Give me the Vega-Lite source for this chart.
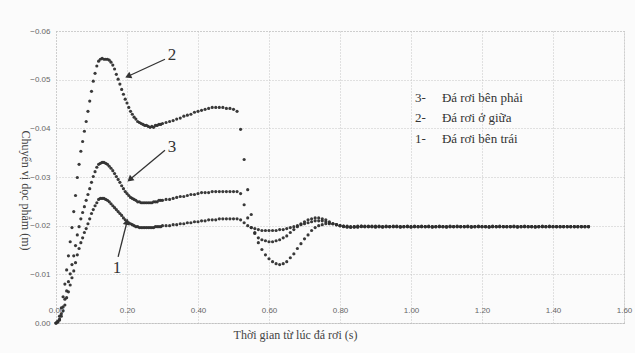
{
"$schema": "https://vega.github.io/schema/vega-lite/v6.json",
"width": 568, "height": 292,
"autosize": "none",
"padding": {"left": 56, "top": 31, "right": 11, "bottom": 30},
"background": "#fbfbfb",
"config": {"view": {"stroke": "#b5b5b5", "strokeDash": [1, 2]}},
"datasets": {
"curves": [
{"s":1,"t":0,"v":0},{"s":1,"t":0.005,"v":-0.0002},{"s":1,"t":0.01,"v":-0.0006},{"s":1,"t":0.015,"v":-0.0014},{"s":1,"t":0.02,"v":-0.0025},{"s":1,"t":0.025,"v":-0.0037},{"s":1,"t":0.03,"v":-0.0052},{"s":1,"t":0.035,"v":-0.0064},{"s":1,"t":0.04,"v":-0.0078},{"s":1,"t":0.045,"v":-0.0093},{"s":1,"t":0.05,"v":-0.0107},{"s":1,"t":0.055,"v":-0.0124},{"s":1,"t":0.06,"v":-0.014},{"s":1,"t":0.065,"v":-0.0153},{"s":1,"t":0.07,"v":-0.0165},{"s":1,"t":0.075,"v":-0.0175},{"s":1,"t":0.08,"v":-0.0186},{"s":1,"t":0.085,"v":-0.0194},{"s":1,"t":0.09,"v":-0.0204},{"s":1,"t":0.095,"v":-0.0214},{"s":1,"t":0.1,"v":-0.0225},{"s":1,"t":0.105,"v":-0.0233},{"s":1,"t":0.11,"v":-0.0241},{"s":1,"t":0.115,"v":-0.0247},{"s":1,"t":0.12,"v":-0.0254},{"s":1,"t":0.125,"v":-0.0256},{"s":1,"t":0.13,"v":-0.0256},
{"s":1,"t":0.135,"v":-0.0256},{"s":1,"t":0.14,"v":-0.0254},{"s":1,"t":0.145,"v":-0.0252},{"s":1,"t":0.15,"v":-0.0249},{"s":1,"t":0.155,"v":-0.0245},{"s":1,"t":0.16,"v":-0.0241},{"s":1,"t":0.165,"v":-0.0237},{"s":1,"t":0.17,"v":-0.0233},{"s":1,"t":0.175,"v":-0.0229},{"s":1,"t":0.18,"v":-0.0225},{"s":1,"t":0.185,"v":-0.0221},{"s":1,"t":0.19,"v":-0.0216},{"s":1,"t":0.195,"v":-0.0212},{"s":1,"t":0.2,"v":-0.0208},{"s":1,"t":0.205,"v":-0.0206},{"s":1,"t":0.21,"v":-0.0204},{"s":1,"t":0.215,"v":-0.0202},{"s":1,"t":0.22,"v":-0.02},{"s":1,"t":0.225,"v":-0.0198},{"s":1,"t":0.23,"v":-0.0198},{"s":1,"t":0.235,"v":-0.0196},{"s":1,"t":0.24,"v":-0.0196},{"s":1,"t":0.245,"v":-0.0196},{"s":1,"t":0.25,"v":-0.0196},{"s":1,"t":0.255,"v":-0.0196},{"s":1,"t":0.26,"v":-0.0196},{"s":1,"t":0.265,"v":-0.0196},{"s":1,"t":0.27,"v":-0.0196},{"s":1,"t":0.275,"v":-0.0196},{"s":1,"t":0.28,"v":-0.0198},{"s":1,"t":0.285,"v":-0.0198},{"s":1,"t":0.29,"v":-0.0198},{"s":1,"t":0.295,"v":-0.0198},{"s":1,"t":0.3,"v":-0.02},
{"s":1,"t":0.31,"v":-0.02},{"s":1,"t":0.32,"v":-0.02},{"s":1,"t":0.33,"v":-0.0202},{"s":1,"t":0.34,"v":-0.0202},{"s":1,"t":0.35,"v":-0.0204},{"s":1,"t":0.36,"v":-0.0204},{"s":1,"t":0.37,"v":-0.0206},{"s":1,"t":0.38,"v":-0.0206},{"s":1,"t":0.39,"v":-0.0208},{"s":1,"t":0.4,"v":-0.0208},{"s":1,"t":0.41,"v":-0.021},{"s":1,"t":0.42,"v":-0.021},{"s":1,"t":0.43,"v":-0.0212},{"s":1,"t":0.44,"v":-0.0212},{"s":1,"t":0.45,"v":-0.0212},{"s":1,"t":0.46,"v":-0.0214},{"s":1,"t":0.47,"v":-0.0214},{"s":1,"t":0.48,"v":-0.0214},{"s":1,"t":0.49,"v":-0.0214},{"s":1,"t":0.5,"v":-0.0214},{"s":1,"t":0.51,"v":-0.0214},{"s":1,"t":0.52,"v":-0.0212},{"s":1,"t":0.53,"v":-0.0206},{"s":1,"t":0.54,"v":-0.02},{"s":1,"t":0.55,"v":-0.0196},{"s":1,"t":0.56,"v":-0.0194},{"s":1,"t":0.57,"v":-0.0192},{"s":1,"t":0.58,"v":-0.019},{"s":1,"t":0.59,"v":-0.019},{"s":1,"t":0.6,"v":-0.019},{"s":1,"t":0.61,"v":-0.019},{"s":1,"t":0.62,"v":-0.019},{"s":1,"t":0.63,"v":-0.0192},{"s":1,"t":0.64,"v":-0.0192},{"s":1,"t":0.65,"v":-0.0194},{"s":1,"t":0.66,"v":-0.0196},{"s":1,"t":0.67,"v":-0.0198},{"s":1,"t":0.68,"v":-0.02},{"s":1,"t":0.69,"v":-0.0202},{"s":1,"t":0.7,"v":-0.0204},{"s":1,"t":0.71,"v":-0.0206},{"s":1,"t":0.72,"v":-0.0208},{"s":1,"t":0.73,"v":-0.021},{"s":1,"t":0.74,"v":-0.021},{"s":1,"t":0.75,"v":-0.021},{"s":1,"t":0.76,"v":-0.0208},{"s":1,"t":0.77,"v":-0.0206},{"s":1,"t":0.78,"v":-0.0204},{"s":1,"t":0.79,"v":-0.0202},{"s":1,"t":0.8,"v":-0.02},
{"s":1,"t":0.81,"v":-0.0199},{"s":1,"t":0.82,"v":-0.0199},{"s":1,"t":0.83,"v":-0.0198},{"s":1,"t":0.84,"v":-0.0198},{"s":1,"t":0.85,"v":-0.0199},{"s":1,"t":0.86,"v":-0.0199},{"s":1,"t":0.87,"v":-0.0198},{"s":1,"t":0.88,"v":-0.0198},{"s":1,"t":0.89,"v":-0.0198},{"s":1,"t":0.9,"v":-0.0199},{"s":1,"t":0.91,"v":-0.0199},{"s":1,"t":0.92,"v":-0.0198},{"s":1,"t":0.93,"v":-0.0198},{"s":1,"t":0.94,"v":-0.0198},{"s":1,"t":0.95,"v":-0.0199},{"s":1,"t":0.96,"v":-0.0198},{"s":1,"t":0.97,"v":-0.0198},{"s":1,"t":0.98,"v":-0.0198},{"s":1,"t":0.99,"v":-0.0199},{"s":1,"t":1.0,"v":-0.0198},{"s":1,"t":1.01,"v":-0.0198},{"s":1,"t":1.02,"v":-0.0198},{"s":1,"t":1.03,"v":-0.0199},{"s":1,"t":1.04,"v":-0.0198},{"s":1,"t":1.05,"v":-0.0198},{"s":1,"t":1.06,"v":-0.0198},{"s":1,"t":1.07,"v":-0.0198},{"s":1,"t":1.08,"v":-0.0199},{"s":1,"t":1.09,"v":-0.0198},{"s":1,"t":1.1,"v":-0.0198},{"s":1,"t":1.11,"v":-0.0198},{"s":1,"t":1.12,"v":-0.0198},{"s":1,"t":1.13,"v":-0.0199},{"s":1,"t":1.14,"v":-0.0198},{"s":1,"t":1.15,"v":-0.0198},{"s":1,"t":1.16,"v":-0.0198},{"s":1,"t":1.17,"v":-0.0198},{"s":1,"t":1.18,"v":-0.0198},{"s":1,"t":1.19,"v":-0.0199},{"s":1,"t":1.2,"v":-0.0198},{"s":1,"t":1.21,"v":-0.0198},{"s":1,"t":1.22,"v":-0.0198},{"s":1,"t":1.23,"v":-0.0198},{"s":1,"t":1.24,"v":-0.0198},{"s":1,"t":1.25,"v":-0.0199},{"s":1,"t":1.26,"v":-0.0198},{"s":1,"t":1.27,"v":-0.0198},{"s":1,"t":1.28,"v":-0.0198},{"s":1,"t":1.29,"v":-0.0198},{"s":1,"t":1.3,"v":-0.0198},{"s":1,"t":1.31,"v":-0.0198},{"s":1,"t":1.32,"v":-0.0199},{"s":1,"t":1.33,"v":-0.0198},{"s":1,"t":1.34,"v":-0.0198},{"s":1,"t":1.35,"v":-0.0198},{"s":1,"t":1.36,"v":-0.0198},{"s":1,"t":1.37,"v":-0.0198},{"s":1,"t":1.38,"v":-0.0198},{"s":1,"t":1.39,"v":-0.0199},{"s":1,"t":1.4,"v":-0.0198},{"s":1,"t":1.41,"v":-0.0198},{"s":1,"t":1.42,"v":-0.0198},{"s":1,"t":1.43,"v":-0.0198},{"s":1,"t":1.44,"v":-0.0198},{"s":1,"t":1.45,"v":-0.0198},{"s":1,"t":1.46,"v":-0.0198},{"s":1,"t":1.47,"v":-0.0198},{"s":1,"t":1.48,"v":-0.0198},{"s":1,"t":1.49,"v":-0.0198},{"s":1,"t":1.5,"v":-0.0198},
{"s":2,"t":0,"v":0},{"s":2,"t":0.005,"v":-0.0004},{"s":2,"t":0.01,"v":-0.0014},{"s":2,"t":0.015,"v":-0.0031},{"s":2,"t":0.02,"v":-0.0054},{"s":2,"t":0.025,"v":-0.008},{"s":2,"t":0.03,"v":-0.0109},{"s":2,"t":0.035,"v":-0.0138},{"s":2,"t":0.04,"v":-0.0167},{"s":2,"t":0.045,"v":-0.0196},{"s":2,"t":0.05,"v":-0.0229},{"s":2,"t":0.055,"v":-0.0262},{"s":2,"t":0.06,"v":-0.0299},{"s":2,"t":0.065,"v":-0.0326},{"s":2,"t":0.07,"v":-0.0353},{"s":2,"t":0.075,"v":-0.0373},{"s":2,"t":0.08,"v":-0.0394},{"s":2,"t":0.085,"v":-0.0414},{"s":2,"t":0.09,"v":-0.0435},{"s":2,"t":0.095,"v":-0.0456},{"s":2,"t":0.1,"v":-0.0476},{"s":2,"t":0.105,"v":-0.0497},{"s":2,"t":0.11,"v":-0.0513},{"s":2,"t":0.115,"v":-0.0528},{"s":2,"t":0.12,"v":-0.0538},{"s":2,"t":0.125,"v":-0.0542},{"s":2,"t":0.13,"v":-0.0544},
{"s":2,"t":0.135,"v":-0.0542},{"s":2,"t":0.14,"v":-0.0542},{"s":2,"t":0.145,"v":-0.0542},{"s":2,"t":0.15,"v":-0.054},{"s":2,"t":0.155,"v":-0.0536},{"s":2,"t":0.16,"v":-0.053},{"s":2,"t":0.165,"v":-0.0522},{"s":2,"t":0.17,"v":-0.0511},{"s":2,"t":0.175,"v":-0.0501},{"s":2,"t":0.18,"v":-0.0491},{"s":2,"t":0.185,"v":-0.048},{"s":2,"t":0.19,"v":-0.047},{"s":2,"t":0.195,"v":-0.046},{"s":2,"t":0.2,"v":-0.0452},{"s":2,"t":0.205,"v":-0.0443},{"s":2,"t":0.21,"v":-0.0435},{"s":2,"t":0.215,"v":-0.0429},{"s":2,"t":0.22,"v":-0.0423},{"s":2,"t":0.225,"v":-0.0419},{"s":2,"t":0.23,"v":-0.0414},{"s":2,"t":0.235,"v":-0.0412},{"s":2,"t":0.24,"v":-0.041},{"s":2,"t":0.245,"v":-0.0408},{"s":2,"t":0.25,"v":-0.0406},{"s":2,"t":0.255,"v":-0.0406},{"s":2,"t":0.26,"v":-0.0404},{"s":2,"t":0.265,"v":-0.0402},{"s":2,"t":0.27,"v":-0.0404},{"s":2,"t":0.275,"v":-0.0402},{"s":2,"t":0.28,"v":-0.0406},{"s":2,"t":0.285,"v":-0.0406},{"s":2,"t":0.29,"v":-0.0408},{"s":2,"t":0.295,"v":-0.0408},{"s":2,"t":0.3,"v":-0.041},
{"s":2,"t":0.31,"v":-0.0412},{"s":2,"t":0.32,"v":-0.0414},{"s":2,"t":0.33,"v":-0.0416},{"s":2,"t":0.34,"v":-0.0419},{"s":2,"t":0.35,"v":-0.0421},{"s":2,"t":0.36,"v":-0.0425},{"s":2,"t":0.37,"v":-0.0427},{"s":2,"t":0.38,"v":-0.0429},{"s":2,"t":0.39,"v":-0.0433},{"s":2,"t":0.4,"v":-0.0435},{"s":2,"t":0.41,"v":-0.0437},{"s":2,"t":0.42,"v":-0.0439},{"s":2,"t":0.43,"v":-0.0441},{"s":2,"t":0.44,"v":-0.0443},{"s":2,"t":0.45,"v":-0.0443},{"s":2,"t":0.46,"v":-0.0443},{"s":2,"t":0.47,"v":-0.0443},{"s":2,"t":0.48,"v":-0.0441},{"s":2,"t":0.49,"v":-0.0441},{"s":2,"t":0.5,"v":-0.0439},{"s":2,"t":0.51,"v":-0.0435},{"s":2,"t":0.52,"v":-0.0398},{"s":2,"t":0.53,"v":-0.0336},{"s":2,"t":0.54,"v":-0.0274},{"s":2,"t":0.55,"v":-0.0223},{"s":2,"t":0.56,"v":-0.0186},{"s":2,"t":0.57,"v":-0.0165},{"s":2,"t":0.58,"v":-0.0151},{"s":2,"t":0.59,"v":-0.014},{"s":2,"t":0.6,"v":-0.0132},{"s":2,"t":0.61,"v":-0.0126},{"s":2,"t":0.62,"v":-0.0122},{"s":2,"t":0.63,"v":-0.012},{"s":2,"t":0.64,"v":-0.0122},{"s":2,"t":0.65,"v":-0.0126},{"s":2,"t":0.66,"v":-0.0134},{"s":2,"t":0.67,"v":-0.0142},{"s":2,"t":0.68,"v":-0.0153},{"s":2,"t":0.69,"v":-0.0163},{"s":2,"t":0.7,"v":-0.0173},{"s":2,"t":0.71,"v":-0.0181},{"s":2,"t":0.72,"v":-0.019},{"s":2,"t":0.73,"v":-0.0196},{"s":2,"t":0.74,"v":-0.02},{"s":2,"t":0.75,"v":-0.0202},{"s":2,"t":0.76,"v":-0.0204},{"s":2,"t":0.77,"v":-0.0204},{"s":2,"t":0.78,"v":-0.0204},{"s":2,"t":0.79,"v":-0.0202},{"s":2,"t":0.8,"v":-0.02},
{"s":2,"t":0.81,"v":-0.0199},{"s":2,"t":0.82,"v":-0.0198},{"s":2,"t":0.83,"v":-0.0197},{"s":2,"t":0.84,"v":-0.0197},{"s":2,"t":0.85,"v":-0.0197},{"s":2,"t":0.86,"v":-0.0198},{"s":2,"t":0.87,"v":-0.0198},{"s":2,"t":0.88,"v":-0.0199},{"s":2,"t":0.89,"v":-0.0199},{"s":2,"t":0.9,"v":-0.0198},{"s":2,"t":0.91,"v":-0.0198},{"s":2,"t":0.92,"v":-0.0197},{"s":2,"t":0.93,"v":-0.0198},{"s":2,"t":0.94,"v":-0.0198},{"s":2,"t":0.95,"v":-0.0198},{"s":2,"t":0.96,"v":-0.0199},{"s":2,"t":0.97,"v":-0.0198},{"s":2,"t":0.98,"v":-0.0198},{"s":2,"t":0.99,"v":-0.0198},{"s":2,"t":1.0,"v":-0.0197},{"s":2,"t":1.01,"v":-0.0198},{"s":2,"t":1.02,"v":-0.0198},{"s":2,"t":1.03,"v":-0.0198},{"s":2,"t":1.04,"v":-0.0198},{"s":2,"t":1.05,"v":-0.0199},{"s":2,"t":1.06,"v":-0.0198},{"s":2,"t":1.07,"v":-0.0198},{"s":2,"t":1.08,"v":-0.0198},{"s":2,"t":1.09,"v":-0.0198},{"s":2,"t":1.1,"v":-0.0197},{"s":2,"t":1.11,"v":-0.0198},{"s":2,"t":1.12,"v":-0.0198},{"s":2,"t":1.13,"v":-0.0198},{"s":2,"t":1.14,"v":-0.0198},{"s":2,"t":1.15,"v":-0.0198},{"s":2,"t":1.16,"v":-0.0199},{"s":2,"t":1.17,"v":-0.0198},{"s":2,"t":1.18,"v":-0.0198},{"s":2,"t":1.19,"v":-0.0198},{"s":2,"t":1.2,"v":-0.0198},{"s":2,"t":1.21,"v":-0.0198},{"s":2,"t":1.22,"v":-0.0197},{"s":2,"t":1.23,"v":-0.0198},{"s":2,"t":1.24,"v":-0.0198},{"s":2,"t":1.25,"v":-0.0198},{"s":2,"t":1.26,"v":-0.0198},{"s":2,"t":1.27,"v":-0.0198},{"s":2,"t":1.28,"v":-0.0198},{"s":2,"t":1.29,"v":-0.0199},{"s":2,"t":1.3,"v":-0.0198},{"s":2,"t":1.31,"v":-0.0198},{"s":2,"t":1.32,"v":-0.0198},{"s":2,"t":1.33,"v":-0.0198},{"s":2,"t":1.34,"v":-0.0198},{"s":2,"t":1.35,"v":-0.0197},{"s":2,"t":1.36,"v":-0.0198},{"s":2,"t":1.37,"v":-0.0198},{"s":2,"t":1.38,"v":-0.0198},{"s":2,"t":1.39,"v":-0.0198},{"s":2,"t":1.4,"v":-0.0198},{"s":2,"t":1.41,"v":-0.0198},{"s":2,"t":1.42,"v":-0.0198},{"s":2,"t":1.43,"v":-0.0198},{"s":2,"t":1.44,"v":-0.0198},{"s":2,"t":1.45,"v":-0.0198},{"s":2,"t":1.46,"v":-0.0198},{"s":2,"t":1.47,"v":-0.0198},{"s":2,"t":1.48,"v":-0.0198},{"s":2,"t":1.49,"v":-0.0198},{"s":2,"t":1.5,"v":-0.0198},
{"s":3,"t":0,"v":0},{"s":3,"t":0.005,"v":-0.0002},{"s":3,"t":0.01,"v":-0.0008},{"s":3,"t":0.015,"v":-0.0019},{"s":3,"t":0.02,"v":-0.0033},{"s":3,"t":0.025,"v":-0.0049},{"s":3,"t":0.03,"v":-0.0066},{"s":3,"t":0.035,"v":-0.0085},{"s":3,"t":0.04,"v":-0.0101},{"s":3,"t":0.045,"v":-0.012},{"s":3,"t":0.05,"v":-0.0138},{"s":3,"t":0.055,"v":-0.0159},{"s":3,"t":0.06,"v":-0.0181},{"s":3,"t":0.065,"v":-0.0198},{"s":3,"t":0.07,"v":-0.0214},{"s":3,"t":0.075,"v":-0.0227},{"s":3,"t":0.08,"v":-0.0239},{"s":3,"t":0.085,"v":-0.0252},{"s":3,"t":0.09,"v":-0.0264},{"s":3,"t":0.095,"v":-0.0276},{"s":3,"t":0.1,"v":-0.0289},{"s":3,"t":0.105,"v":-0.0301},{"s":3,"t":0.11,"v":-0.0311},{"s":3,"t":0.115,"v":-0.032},{"s":3,"t":0.12,"v":-0.0326},{"s":3,"t":0.125,"v":-0.0328},{"s":3,"t":0.13,"v":-0.033},
{"s":3,"t":0.135,"v":-0.033},{"s":3,"t":0.14,"v":-0.0328},{"s":3,"t":0.145,"v":-0.0326},{"s":3,"t":0.15,"v":-0.0322},{"s":3,"t":0.155,"v":-0.0318},{"s":3,"t":0.16,"v":-0.0313},{"s":3,"t":0.165,"v":-0.0307},{"s":3,"t":0.17,"v":-0.0301},{"s":3,"t":0.175,"v":-0.0295},{"s":3,"t":0.18,"v":-0.0289},{"s":3,"t":0.185,"v":-0.0282},{"s":3,"t":0.19,"v":-0.0276},{"s":3,"t":0.195,"v":-0.027},{"s":3,"t":0.2,"v":-0.0266},{"s":3,"t":0.205,"v":-0.0262},{"s":3,"t":0.21,"v":-0.0258},{"s":3,"t":0.215,"v":-0.0256},{"s":3,"t":0.22,"v":-0.0254},{"s":3,"t":0.225,"v":-0.0252},{"s":3,"t":0.23,"v":-0.0249},{"s":3,"t":0.235,"v":-0.0249},{"s":3,"t":0.24,"v":-0.0247},{"s":3,"t":0.245,"v":-0.0247},{"s":3,"t":0.25,"v":-0.0247},{"s":3,"t":0.255,"v":-0.0247},{"s":3,"t":0.26,"v":-0.0247},{"s":3,"t":0.265,"v":-0.0247},{"s":3,"t":0.27,"v":-0.0247},{"s":3,"t":0.275,"v":-0.0249},{"s":3,"t":0.28,"v":-0.0249},{"s":3,"t":0.285,"v":-0.0249},{"s":3,"t":0.29,"v":-0.0252},{"s":3,"t":0.295,"v":-0.0252},{"s":3,"t":0.3,"v":-0.0252},
{"s":3,"t":0.31,"v":-0.0254},{"s":3,"t":0.32,"v":-0.0254},{"s":3,"t":0.33,"v":-0.0256},{"s":3,"t":0.34,"v":-0.0258},{"s":3,"t":0.35,"v":-0.026},{"s":3,"t":0.36,"v":-0.026},{"s":3,"t":0.37,"v":-0.0262},{"s":3,"t":0.38,"v":-0.0264},{"s":3,"t":0.39,"v":-0.0264},{"s":3,"t":0.4,"v":-0.0266},{"s":3,"t":0.41,"v":-0.0268},{"s":3,"t":0.42,"v":-0.0268},{"s":3,"t":0.43,"v":-0.0268},{"s":3,"t":0.44,"v":-0.027},{"s":3,"t":0.45,"v":-0.027},{"s":3,"t":0.46,"v":-0.027},{"s":3,"t":0.47,"v":-0.027},{"s":3,"t":0.48,"v":-0.027},{"s":3,"t":0.49,"v":-0.027},{"s":3,"t":0.5,"v":-0.027},{"s":3,"t":0.51,"v":-0.027},{"s":3,"t":0.52,"v":-0.0266},{"s":3,"t":0.53,"v":-0.0243},{"s":3,"t":0.54,"v":-0.0216},{"s":3,"t":0.55,"v":-0.0196},{"s":3,"t":0.56,"v":-0.0184},{"s":3,"t":0.57,"v":-0.0175},{"s":3,"t":0.58,"v":-0.0171},{"s":3,"t":0.59,"v":-0.0169},{"s":3,"t":0.6,"v":-0.0167},{"s":3,"t":0.61,"v":-0.0167},{"s":3,"t":0.62,"v":-0.0169},{"s":3,"t":0.63,"v":-0.0171},{"s":3,"t":0.64,"v":-0.0175},{"s":3,"t":0.65,"v":-0.0179},{"s":3,"t":0.66,"v":-0.0186},{"s":3,"t":0.67,"v":-0.0192},{"s":3,"t":0.68,"v":-0.0198},{"s":3,"t":0.69,"v":-0.0204},{"s":3,"t":0.7,"v":-0.0208},{"s":3,"t":0.71,"v":-0.0212},{"s":3,"t":0.72,"v":-0.0214},{"s":3,"t":0.73,"v":-0.0216},{"s":3,"t":0.74,"v":-0.0216},{"s":3,"t":0.75,"v":-0.0214},{"s":3,"t":0.76,"v":-0.0212},{"s":3,"t":0.77,"v":-0.0208},{"s":3,"t":0.78,"v":-0.0204},{"s":3,"t":0.79,"v":-0.0202},{"s":3,"t":0.8,"v":-0.02},
{"s":3,"t":0.81,"v":-0.0198},{"s":3,"t":0.82,"v":-0.0197},{"s":3,"t":0.83,"v":-0.0197},{"s":3,"t":0.84,"v":-0.0198},{"s":3,"t":0.85,"v":-0.0198},{"s":3,"t":0.86,"v":-0.0199},{"s":3,"t":0.87,"v":-0.0199},{"s":3,"t":0.88,"v":-0.0198},{"s":3,"t":0.89,"v":-0.0198},{"s":3,"t":0.9,"v":-0.0197},{"s":3,"t":0.91,"v":-0.0198},{"s":3,"t":0.92,"v":-0.0198},{"s":3,"t":0.93,"v":-0.0199},{"s":3,"t":0.94,"v":-0.0198},{"s":3,"t":0.95,"v":-0.0198},{"s":3,"t":0.96,"v":-0.0198},{"s":3,"t":0.97,"v":-0.0197},{"s":3,"t":0.98,"v":-0.0198},{"s":3,"t":0.99,"v":-0.0198},{"s":3,"t":1.0,"v":-0.0198},{"s":3,"t":1.01,"v":-0.0199},{"s":3,"t":1.02,"v":-0.0198},{"s":3,"t":1.03,"v":-0.0198},{"s":3,"t":1.04,"v":-0.0198},{"s":3,"t":1.05,"v":-0.0198},{"s":3,"t":1.06,"v":-0.0197},{"s":3,"t":1.07,"v":-0.0198},{"s":3,"t":1.08,"v":-0.0198},{"s":3,"t":1.09,"v":-0.0198},{"s":3,"t":1.1,"v":-0.0198},{"s":3,"t":1.11,"v":-0.0199},{"s":3,"t":1.12,"v":-0.0198},{"s":3,"t":1.13,"v":-0.0198},{"s":3,"t":1.14,"v":-0.0198},{"s":3,"t":1.15,"v":-0.0198},{"s":3,"t":1.16,"v":-0.0198},{"s":3,"t":1.17,"v":-0.0197},{"s":3,"t":1.18,"v":-0.0198},{"s":3,"t":1.19,"v":-0.0198},{"s":3,"t":1.2,"v":-0.0198},{"s":3,"t":1.21,"v":-0.0198},{"s":3,"t":1.22,"v":-0.0198},{"s":3,"t":1.23,"v":-0.0199},{"s":3,"t":1.24,"v":-0.0198},{"s":3,"t":1.25,"v":-0.0198},{"s":3,"t":1.26,"v":-0.0198},{"s":3,"t":1.27,"v":-0.0198},{"s":3,"t":1.28,"v":-0.0198},{"s":3,"t":1.29,"v":-0.0198},{"s":3,"t":1.3,"v":-0.0197},{"s":3,"t":1.31,"v":-0.0198},{"s":3,"t":1.32,"v":-0.0198},{"s":3,"t":1.33,"v":-0.0198},{"s":3,"t":1.34,"v":-0.0198},{"s":3,"t":1.35,"v":-0.0198},{"s":3,"t":1.36,"v":-0.0198},{"s":3,"t":1.37,"v":-0.0199},{"s":3,"t":1.38,"v":-0.0198},{"s":3,"t":1.39,"v":-0.0198},{"s":3,"t":1.4,"v":-0.0198},{"s":3,"t":1.41,"v":-0.0198},{"s":3,"t":1.42,"v":-0.0198},{"s":3,"t":1.43,"v":-0.0198},{"s":3,"t":1.44,"v":-0.0198},{"s":3,"t":1.45,"v":-0.0198},{"s":3,"t":1.46,"v":-0.0198},{"s":3,"t":1.47,"v":-0.0198},{"s":3,"t":1.48,"v":-0.0198},{"s":3,"t":1.49,"v":-0.0198},{"s":3,"t":1.5,"v":-0.0198}
],
"arrows": [
{"id":"2","t":0.307,"v":-0.0542,"t2":0.203,"v2":-0.0507},
{"id":"3","t":0.307,"v":-0.0355,"t2":0.208,"v2":-0.0295},
{"id":"1","t":0.175,"v":-0.0136,"t2":0.2,"v2":-0.0208}
],
"labels": [
{"t":0.327,"v":-0.0551,"txt":"2"},
{"t":0.327,"v":-0.0361,"txt":"3"},
{"t":0.172,"v":-0.0113,"txt":"1"}
],
"legend": [
{"t":1.011,"v":-0.0462,"txt":"3-"},{"t":1.087,"v":-0.0462,"txt":"Đá rơi bên phải"},
{"t":1.011,"v":-0.0421,"txt":"2-"},{"t":1.087,"v":-0.0421,"txt":"Đá rơi ở giữa"},
{"t":1.011,"v":-0.0379,"txt":"1-"},{"t":1.087,"v":-0.0379,"txt":"Đá rơi bên trái"}
]
},
"encoding": {
"x": {"field": "t", "type": "quantitative",
  "scale": {"domain": [0, 1.6], "nice": false, "zero": false},
  "axis": {"values": [0,0.2,0.4,0.6,0.8,1.0,1.2,1.4,1.6], "format": ".2f",
    "title": "Thời gian từ lúc đá rơi (s)", "titleFont": "Liberation Serif", "titleFontSize": 12, "titleFontWeight": "normal", "titleColor": "#444",
    "titleX": 239, "titleY": 6, "titleAlign": "center", "titleBaseline": "top",
    "labelFont": "Liberation Sans", "labelFontSize": 8, "labelColor": "#666", "labelPadding": -17, "labelBaseline": "top",
    "ticks": false, "tickSize": 0, "domainColor": "#b5b5b5", "domainDash": [1,2],
    "grid": true, "gridColor": "#c4c4c4", "gridDash": [1,2], "labelFlush": false}},
"y": {"field": "v", "type": "quantitative",
  "scale": {"domain": [-0.06, 0], "reverse": true, "nice": false, "zero": false},
  "axis": {"values": [-0.06,-0.05,-0.04,-0.03,-0.02,-0.01,0], "format": ".2f",
    "title": "Chuyển vị dọc phẳm (m)", "titleFont": "Liberation Serif", "titleFontSize": 12, "titleFontWeight": "normal", "titleColor": "#444",
    "titleAngle": 90, "titleX": -31, "titleY": 159, "titleAlign": "center", "titleBaseline": "middle",
    "labelFont": "Liberation Sans", "labelFontSize": 8, "labelColor": "#666", "labelPadding": 6,
    "ticks": false, "tickSize": 0, "domain": false,
    "grid": true, "gridColor": "#c4c4c4", "gridDash": [1,2]}}
},
"layer": [
{"data": {"name": "curves"}, "mark": {"type": "point", "filled": true, "size": 10, "color": "#2e2e2e", "opacity": 0.95}},
{"data": {"name": "arrows"}, "mark": {"type": "rule", "color": "#333", "strokeWidth": 1.3},
  "encoding": {"x2": {"field": "t2"}, "y2": {"field": "v2"}}},
{"data": {"name": "arrows"}, "transform": [{"filter": "datum.id == '2'"}],
  "mark": {"type": "point", "shape": "triangle-up", "filled": true, "size": 50, "color": "#333", "angle": 245, "opacity": 1},
  "encoding": {"x": {"field": "t2", "type": "quantitative"}, "y": {"field": "v2", "type": "quantitative"}}},
{"data": {"name": "arrows"}, "transform": [{"filter": "datum.id == '3'"}],
  "mark": {"type": "point", "shape": "triangle-up", "filled": true, "size": 50, "color": "#333", "angle": 230, "opacity": 1},
  "encoding": {"x": {"field": "t2", "type": "quantitative"}, "y": {"field": "v2", "type": "quantitative"}}},
{"data": {"name": "arrows"}, "transform": [{"filter": "datum.id == '1'"}],
  "mark": {"type": "point", "shape": "triangle-up", "filled": true, "size": 50, "color": "#333", "angle": 14, "opacity": 1},
  "encoding": {"x": {"field": "t2", "type": "quantitative"}, "y": {"field": "v2", "type": "quantitative"}}},
{"data": {"name": "labels"}, "mark": {"type": "text", "font": "Liberation Serif", "fontSize": 17, "color": "#333", "align": "center", "baseline": "middle"},
  "encoding": {"text": {"field": "txt"}}},
{"data": {"name": "legend"}, "mark": {"type": "text", "font": "Liberation Serif", "fontSize": 13, "color": "#333", "align": "left", "baseline": "middle"},
  "encoding": {"text": {"field": "txt"}}}
]
}
